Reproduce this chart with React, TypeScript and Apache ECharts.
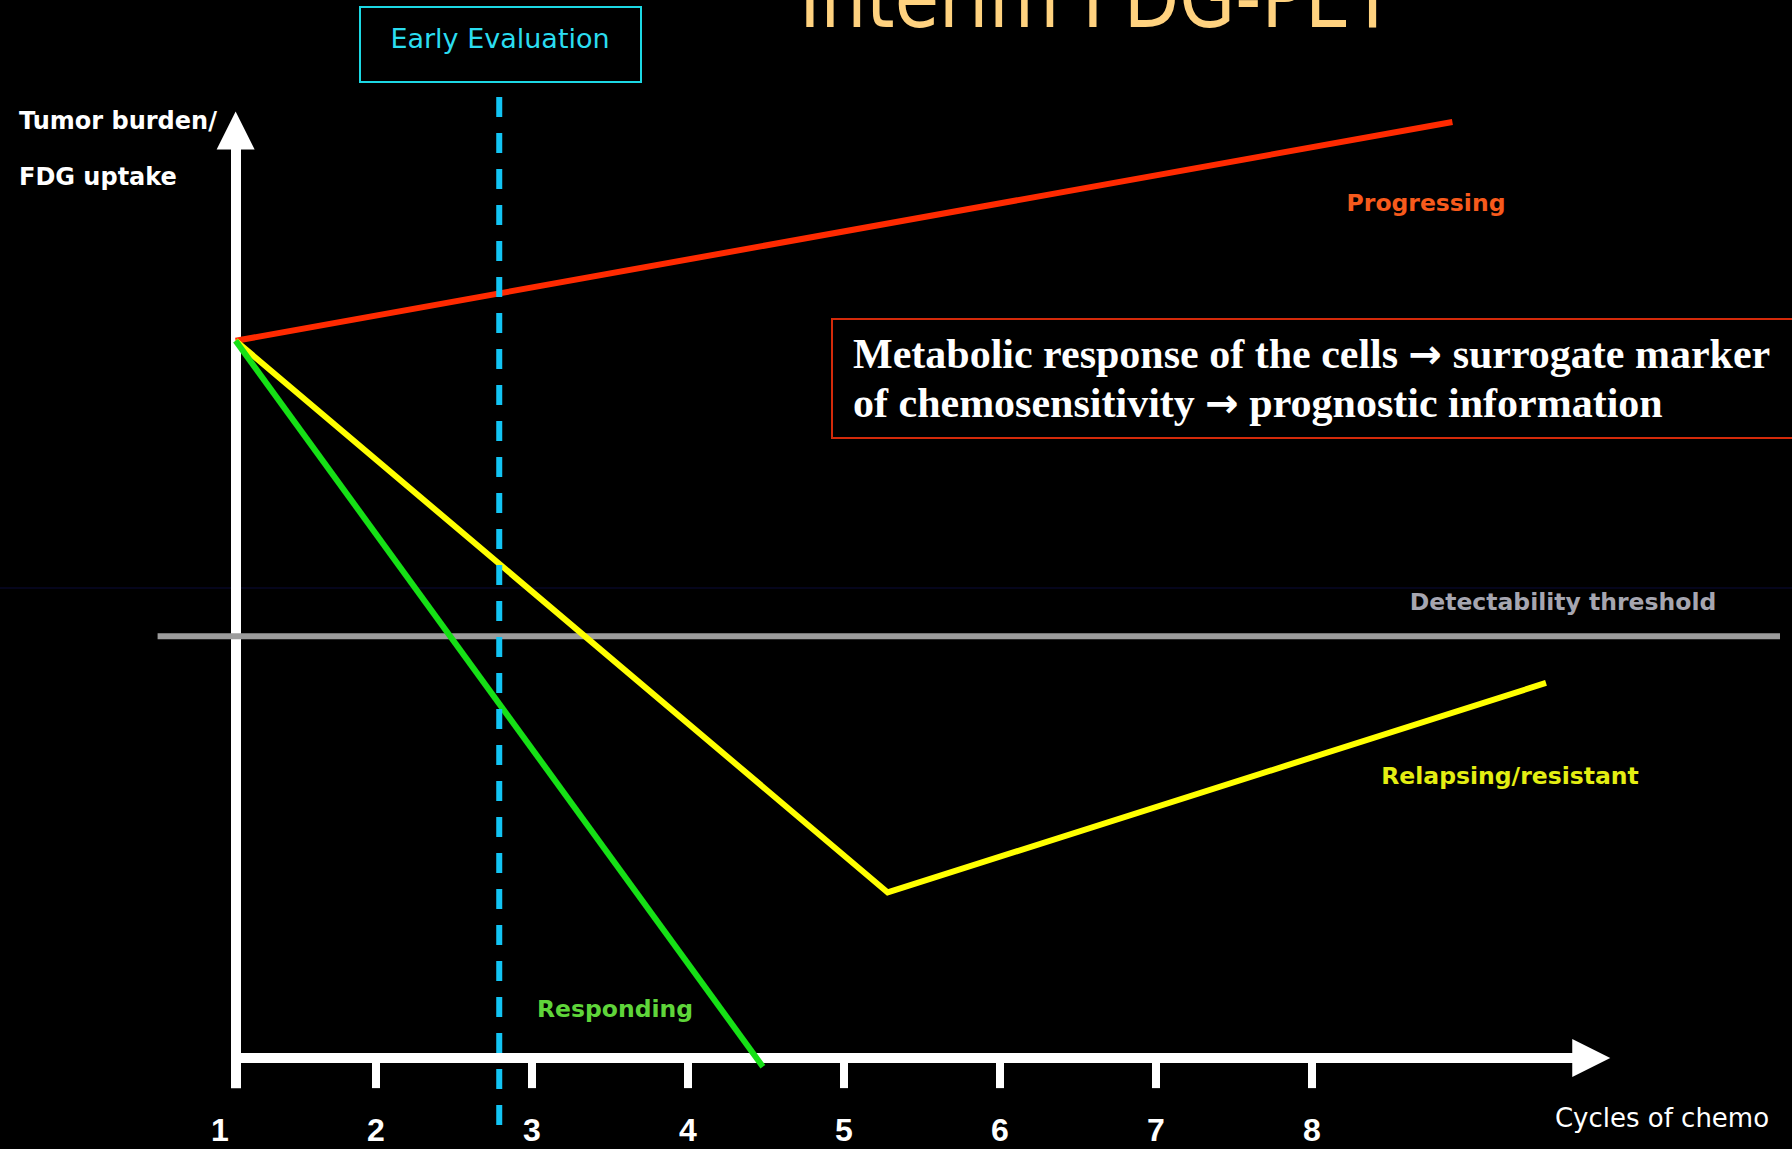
import React, { useEffect, useRef } from 'react';
import * as echarts from 'echarts';

// Cycle axis: ticks and labels
const cycleTicks = [2, 3, 4, 5, 6, 7, 8];
const cycleLabels = [1, 2, 3, 4, 5, 6, 7, 8];

// Tumour burden / FDG uptake (arbitrary units, 100 = baseline) per chemo cycle
const progressingCycles = [1.1, 8.9];
const progressingBurden = [100, 130.5];

const relapsingCycles = [1.1, 5.28, 9.5];
const relapsingBurden = [100, 23.1, 52.3];

const respondingCycles = [1.1, 4.48];
const respondingBurden = [100, -1.2];

// Detectability threshold
const thresholdBurden = 58.8;
const thresholdCycles = [0.6, 11];

// Early (interim) evaluation time point
const earlyEvalCycle = 2.79;
const earlyEvalBurden = [134, -10.7];

// Hand-drawn axes, in data units
const AXIS_ORIGIN = 1.1;
const Y_AXIS_FOOT = -4.2;
const Y_AXIS_HEAD = 129.3;
const X_AXIS_HEAD = 9.79;

const SANS = "'DejaVu Sans', Verdana, sans-serif";
const SERIF = "'Liberation Serif', 'Times New Roman', serif";
const NARROW = "'Liberation Sans Narrow', 'Liberation Sans', Arial, sans-serif";

const pairs = (xs: number[], ys: number[]) => xs.map((x, i) => [x, ys[i]]);

const curve = (name: string, data: number[][], color: string, z: number, extra: any = {}) => ({
  type: 'line',
  name,
  data,
  z,
  symbol: 'none',
  showSymbol: false,
  silent: true,
  clip: false,
  emphasis: { disabled: true },
  itemStyle: { color },
  lineStyle: { color, width: 6, join: 'miter', ...extra },
});

const label = (
  text: string,
  x: number,
  y: number,
  fill: string,
  fontSize: number,
  fontWeight: string,
  align: string,
  fontFamily = SANS,
  extra: any = {}
) => ({
  type: 'text',
  x,
  y,
  silent: true,
  z: 10,
  ...extra,
  style: {
    text,
    fill,
    fontSize,
    fontWeight,
    fontFamily,
    align,
    textAlign: align,
    verticalAlign: 'middle',
    textVerticalAlign: 'middle',
  },
});

const option: any = {
  animation: false,
  backgroundColor: '#000',
  grid: {
    left: 64,
    width: 1716,
    top: 18,
    height: 1126.2,
    containLabel: false,
    outerBoundsMode: 'none',
  },
  xAxis: {
    type: 'value',
    min: 0,
    max: 11,
    interval: 1,
    splitLine: { show: false },
    axisLine: { show: false, onZero: true },
    axisTick: {
      show: true,
      customValues: cycleTicks,
      inside: false,
      length: 30,
      lineStyle: { color: '#fff', width: 8 },
    },
    axisLabel: {
      show: true,
      customValues: cycleLabels,
      // labels are laid out from the grid's bottom edge
      margin: -30,
      color: '#fff',
      fontSize: 32,
      fontWeight: 'bold',
      fontFamily: NARROW,
      formatter: (v: number) => (cycleLabels.indexOf(v) >= 0 ? String(v) : ''),
    },
  },
  yAxis: {
    type: 'value',
    min: -12,
    max: 145,
    show: false,
    splitLine: { show: false },
  },
  series: [
    {
      type: 'line',
      name: 'axes',
      data: [],
      silent: true,
      z: 1,
      markLine: {
        z: 1,
        silent: true,
        animation: false,
        symbol: ['none', 'triangle'],
        symbolSize: [38, 38],
        label: { show: false },
        emphasis: { disabled: true },
        itemStyle: { color: '#fff' },
        lineStyle: { color: '#fff', width: 10, type: 'solid' },
        data: [
          [{ coord: [AXIS_ORIGIN, Y_AXIS_FOOT] }, { coord: [AXIS_ORIGIN, Y_AXIS_HEAD] }],
          [{ coord: [AXIS_ORIGIN, 0] }, { coord: [X_AXIS_HEAD, 0] }],
        ],
      },
    },
    curve(
      'Detectability threshold',
      thresholdCycles.map((c) => [c, thresholdBurden]),
      '#9c9c9c',
      2
    ),
    curve('Progressing', pairs(progressingCycles, progressingBurden), '#ff2a00', 3),
    curve('Relapsing/resistant', pairs(relapsingCycles, relapsingBurden), '#ffff00', 3),
    curve('Responding', pairs(respondingCycles, respondingBurden), '#16e016', 3),
    curve(
      'Early Evaluation',
      earlyEvalBurden.map((b) => [earlyEvalCycle, b]),
      '#12c4f4',
      4,
      { type: [20, 16], join: 'miter' }
    ),
  ],
  graphic: [
    {
      type: 'line',
      silent: true,
      z: 0,
      shape: { x1: 0, y1: 588, x2: 1792, y2: 588 },
      style: { stroke: '#0a0a38', lineWidth: 1 },
    },
    label('Interim FDG-PET', 1097, -3, '#ffd27f', 86, 'normal', 'center', SANS, { scaleX: 0.84 }),
    {
      type: 'rect',
      silent: true,
      z: 10,
      shape: { x: 360, y: 7, width: 281, height: 75 },
      style: { fill: 'rgba(0,0,0,0)', stroke: '#1cd8e4', lineWidth: 2 },
    },
    label('Early Evaluation', 500, 38, '#2bddf0', 27, 'normal', 'center'),
    label('Tumor burden/', 19, 121, '#ffffff', 24, 'bold', 'left'),
    label('FDG uptake', 19, 177, '#ffffff', 24, 'bold', 'left'),
    label('Progressing', 1426, 203, '#f75a1c', 23.5, 'bold', 'center'),
    label('Detectability threshold', 1563, 602, '#a6a6b0', 23.5, 'bold', 'center'),
    label('Relapsing/resistant', 1510, 776, '#e4ee12', 23.5, 'bold', 'center'),
    label('Responding', 615, 1009, '#5fd53a', 23.5, 'bold', 'center'),
    label('Cycles of chemo', 1662, 1118, '#ffffff', 26, 'normal', 'center'),
    {
      type: 'rect',
      silent: true,
      z: 10,
      shape: { x: 832, y: 319, width: 980, height: 119 },
      style: { fill: 'rgba(0,0,0,0)', stroke: '#d42a0a', lineWidth: 2 },
    },
    {
      type: 'text',
      x: 853,
      y: 329,
      silent: true,
      z: 10,
      style: {
        text:
          'Metabolic response of the cells {arrow|\u2192} surrogate marker\nof chemosensitivity {arrow|\u2192} prognostic information',
        fill: '#ffffff',
        fontSize: 42,
        fontWeight: 'bold',
        fontFamily: SERIF,
        lineHeight: 49,
        align: 'left',
        textAlign: 'left',
        verticalAlign: 'top',
        textVerticalAlign: 'top',
        rich: {
          arrow: {
            fill: '#ffffff',
            fontSize: 40,
            fontWeight: 'bold',
            fontFamily: SANS,
            lineHeight: 49,
          },
        },
      },
    },
  ],
};

export default function App() {
  const ref = useRef<HTMLDivElement>(null);

  useEffect(() => {
    document.body.style.margin = '0';
    document.body.style.background = '#000';
    const chart = echarts.init(ref.current as HTMLDivElement, null, {
      renderer: 'svg',
      width: 1792,
      height: 1149,
    });
    chart.setOption(option);
    return () => chart.dispose();
  }, []);

  return (
    <div
      ref={ref}
      style={{ position: 'absolute', left: 0, top: 0, width: 1792, height: 1149, background: '#000' }}
    />
  );
}
